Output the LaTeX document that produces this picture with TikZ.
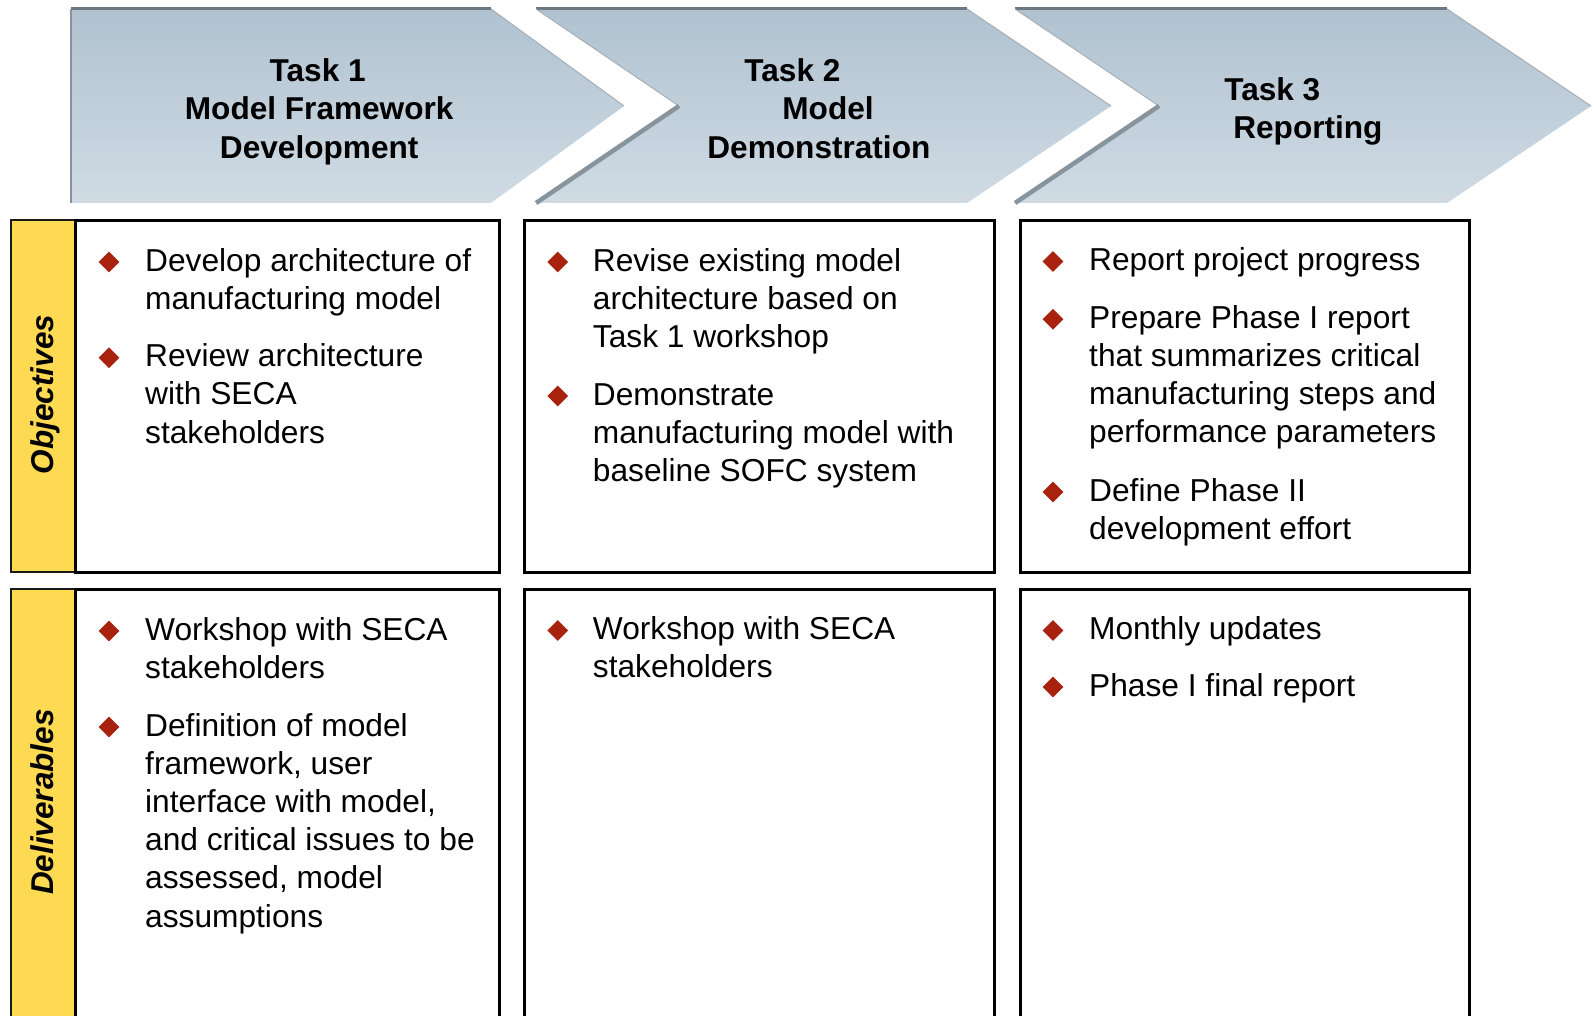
\documentclass[tikz,border=0pt]{standalone}
\usepackage{fontspec}
\setmainfont{Liberation Sans}
\usetikzlibrary{shapes.geometric}
\definecolor{chevtop}{RGB}{176,194,208}
\definecolor{chevbot}{RGB}{208,219,228}
\definecolor{chevline}{RGB}{108,120,128}
\definecolor{chevshadow}{RGB}{136,148,157}
\definecolor{labelyellow}{RGB}{253,218,82}
\definecolor{bulletred}{RGB}{168,34,14}
\tikzset{
  cellbox/.style={draw=black, line width=2.6pt, fill=white, inner sep=0pt, anchor=north west},
  labelbox/.style={draw=black!90, line width=2.4pt, fill=labelyellow, inner sep=0pt, anchor=north west},
  headtext/.style={font=\fontsize{31.6}{38.5}\selectfont\bfseries, inner sep=0pt, anchor=base},
  % anchor base west of a multi-line node = baseline of its LAST line
  bodytext/.style={font=\fontsize{31.7}{38.2}\selectfont, inner sep=0pt, anchor=base west, align=left},
  sidetext/.style={font=\fontsize{31.5}{38}\selectfont\bfseries\itshape, rotate=90, inner sep=0pt, anchor=base},
  bulletmark/.style={diamond, fill=bulletred, inner sep=0pt, minimum width=21pt, minimum height=21pt},
  chevfill/.style={top color=chevtop, bottom color=chevbot},
  toprule/.style={chevline, line width=3pt},
  thinedge/.style={chevline!60, line width=1pt},
  notchshadow/.style={chevshadow, line width=4.5pt},
}
\begin{document}
\begin{tikzpicture}[x=1pt,y=-1pt]
\clip (0,0) rectangle (1594,1016);
\fill[white] (0,0) rectangle (1594,1016);

% ---- chevrons ----
\shade[chevfill] (71,9) -- (491,9) -- (624,106) -- (491,203) -- (71,203) -- cycle;
\shade[chevfill] (536,9) -- (967,9) -- (1111,106) -- (967,203) -- (536,203) -- (679,106) -- cycle;
\shade[chevfill] (1015,9) -- (1447,9) -- (1591,106) -- (1447,203) -- (1015,203) -- (1159,106) -- cycle;

\draw[toprule] (71,9) -- (491,9);
\draw[toprule] (536,9) -- (967,9);
\draw[toprule] (1015,9) -- (1447,9);
\draw[thinedge] (491,9) -- (624,106);
\draw[thinedge] (967,9) -- (1111,106);
\draw[thinedge] (1447,9) -- (1591,106);
\draw[thinedge] (536,9) -- (679,106);
\draw[thinedge] (1015,9) -- (1159,106);
\draw[chevshadow, line width=1.5pt] (71,9) -- (71,203);
\draw[notchshadow] (679,106) -- (536,203);
\draw[notchshadow] (1159,106) -- (1015,203);

% ---- header texts ----
\node[headtext] (h1a) at (317.7,81.5) {Task 1};
\node[headtext] (h1b) at (319.2,120) {Model Framework};
\node[headtext] (h1c) at (319.2,158.5) {Development};
\node[headtext] (h2a) at (792.4,81.5) {Task 2};
\node[headtext] (h2b) at (828,120) {Model};
\node[headtext] (h2c) at (818.9,158.5) {Demonstration};
\node[headtext] (h3a) at (1272.3,100.5) {Task 3};
\node[headtext] (h3b) at (1307.9,139) {Reporting};

% ---- boxes ----
\node[labelbox, minimum width=64pt, minimum height=352pt] (objlabel) at (10,219) {};
\node[cellbox, minimum width=424pt, minimum height=352pt] (obj1) at (74,219) {};
\node[cellbox, minimum width=470pt, minimum height=352pt] (obj2) at (523,219) {};
\node[cellbox, minimum width=449pt, minimum height=352pt] (obj3) at (1019,219) {};

\node[labelbox, minimum width=64pt, minimum height=450pt] (dellabel) at (10,588) {};
\node[cellbox, minimum width=424pt, minimum height=450pt] (del1) at (74,588) {};
\node[cellbox, minimum width=470pt, minimum height=450pt] (del2) at (523,588) {};
\node[cellbox, minimum width=449pt, minimum height=450pt] (del3) at (1019,588) {};

\node[sidetext] (objtext) at (53.5,394.5) {Objectives};
\node[sidetext] (deltext) at (53.5,802) {Deliverables};

% ---- objectives, column 1 ----
\node[bulletmark] (b11) at (109,262) {};
\node[bodytext] (t11) at (145,309.2) {Develop architecture of\\manufacturing model};
\node[bulletmark] (b12) at (109,357.7) {};
\node[bodytext] (t12) at (145,443.1) {Review architecture\\with SECA\\stakeholders};

% ---- objectives, column 2 ----
\node[bulletmark] (b21) at (557.7,262) {};
\node[bodytext] (t21) at (592.7,347.4) {Revise existing model\\architecture based on\\Task 1 workshop};
\node[bulletmark] (b22) at (557.7,396) {};
\node[bodytext] (t22) at (592.7,481.4) {Demonstrate\\manufacturing model with\\baseline SOFC system};

% ---- objectives, column 3 ----
\node[bulletmark] (b31) at (1053,261.5) {};
\node[bodytext] (t31) at (1089,270.5) {Report project progress};
\node[bulletmark] (b32) at (1053,319.3) {};
\node[bodytext] (t32) at (1089,442.9) {Prepare Phase I report\\that summarizes critical\\manufacturing steps and\\performance parameters};
\node[bulletmark] (b33) at (1053,492) {};
\node[bodytext] (t33) at (1089,539.2) {Define Phase II\\development effort};

% ---- deliverables ----
\node[bulletmark] (d11) at (109,631) {};
\node[bodytext] (u11) at (145,678.2) {Workshop with SECA\\stakeholders};
\node[bulletmark] (d12) at (109,727) {};
\node[bodytext] (u12) at (145,927) {Definition of model\\framework, user\\interface with model,\\and critical issues to be\\assessed, model\\assumptions};

\node[bulletmark] (d21) at (557.7,630.5) {};
\node[bodytext] (u21) at (592.7,677.7) {Workshop with SECA\\stakeholders};

\node[bulletmark] (d31) at (1053,630.5) {};
\node[bodytext] (u31) at (1089,639.5) {Monthly updates};
\node[bulletmark] (d32) at (1053,687) {};
\node[bodytext] (u32) at (1089,696) {Phase I final report};
\end{tikzpicture}
\end{document}
